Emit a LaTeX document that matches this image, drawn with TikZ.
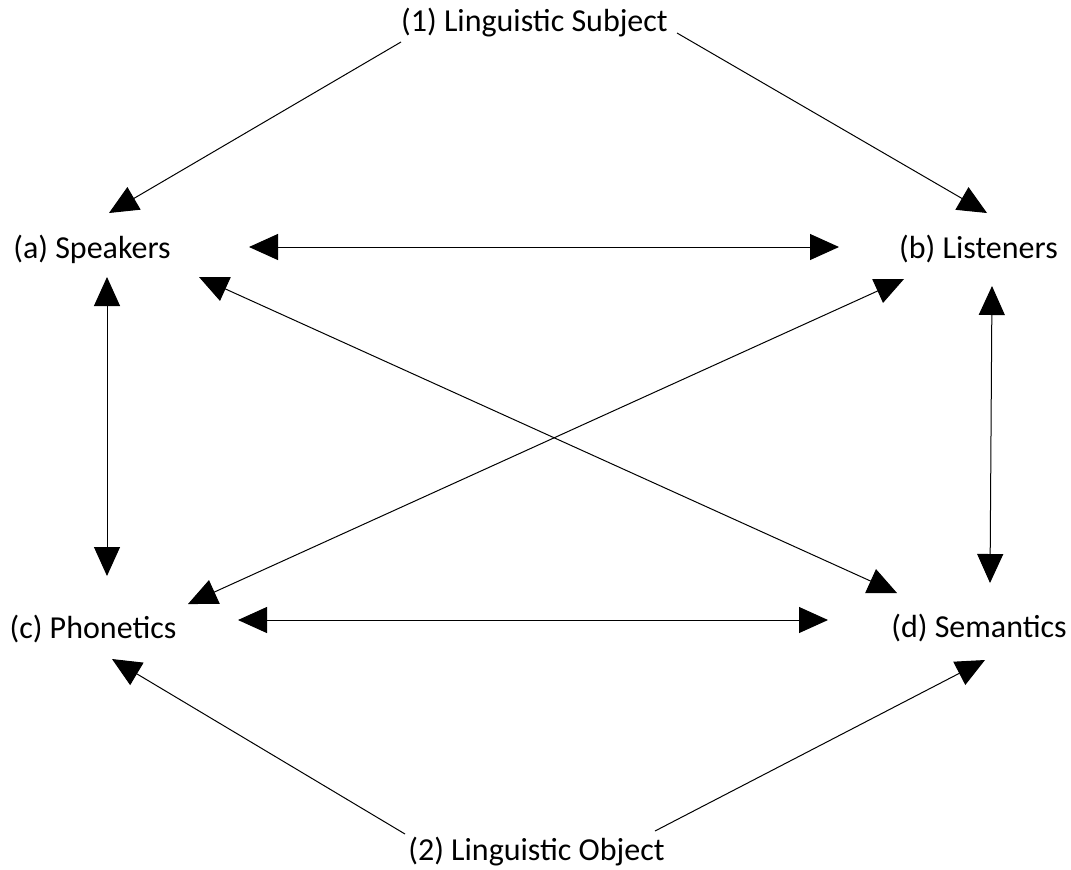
\documentclass[tikz,border=0pt]{standalone}
\usepackage{fontspec}
\setmainfont{Carlito}
\usetikzlibrary{arrows.meta}

\begin{document}
\begin{tikzpicture}
	[
	x = {(0.500000pt, 0.000000pt)},
	y = {(0.000000pt, -0.500000pt)},
	label/.style = {inner sep = 0pt, font = \fontsize{16}{19}\selectfont},
	link/.style = {color = black, line width = 0.5pt, -{Triangle[length = 14.5pt, width = 13pt]}},
	twolink/.style = {color = black, line width = 0.5pt, {Triangle[length = 14.5pt, width = 13pt]}-{Triangle[length = 14.5pt, width = 13pt]}}]
	
	\useasboundingbox (0, 0) rectangle (1071, 869);
	
	%% the labels
	
	\node[label] (subject) at (534.5, 23) {(1) Linguistic Subject};
	\node[label] (speakers) at (92, 249) {(a) Speakers};
	\node[label] (listeners) at (978.5, 249) {(b) Listeners};
	\node[label] (phonetics) at (93, 629) {(c) Phonetics};
	\node[label] (semantics) at (979, 628) {(d) Semantics};
	\node[label] (object) at (536.5, 852) {(2) Linguistic Object};
	
	%% from the subject
	
	\draw[link] ([shift = {(-133.5, 19)}]subject.center) -- ([shift = {(17, -36)}]speakers.center);
	\draw[link] ([shift = {(142.5, 10)}]subject.center) -- ([shift = {(8.5, -36)}]listeners.center);
	
	%% between the four
	
	\draw[twolink] ([shift = {(157, -2)}]speakers.center) -- ([shift = {(-139.5, -2)}]listeners.center);
	\draw[twolink] ([shift = {(15, 28)}]speakers.center) -- ([shift = {(14, -53)}]phonetics.center);
	\draw[twolink] ([shift = {(13.5, 37)}]listeners.center) -- ([shift = {(11, -45)}]semantics.center);
	\draw[twolink] ([shift = {(107, 28)}]speakers.center) -- ([shift = {(-82, -35)}]semantics.center);
	\draw[twolink] ([shift = {(-74.5, 30)}]listeners.center) -- ([shift = {(95, -25)}]phonetics.center);
	\draw[twolink] ([shift = {(145, -9)}]phonetics.center) -- ([shift = {(-151, -8)}]semantics.center);
	
	%% from the object
	
	\draw[link] ([shift = {(-131.5, -18)}]object.center) -- ([shift = {(19, 30)}]phonetics.center);
	\draw[link] ([shift = {(118.5, -21)}]object.center) -- ([shift = {(6, 32)}]semantics.center);
\end{tikzpicture}
\end{document}
